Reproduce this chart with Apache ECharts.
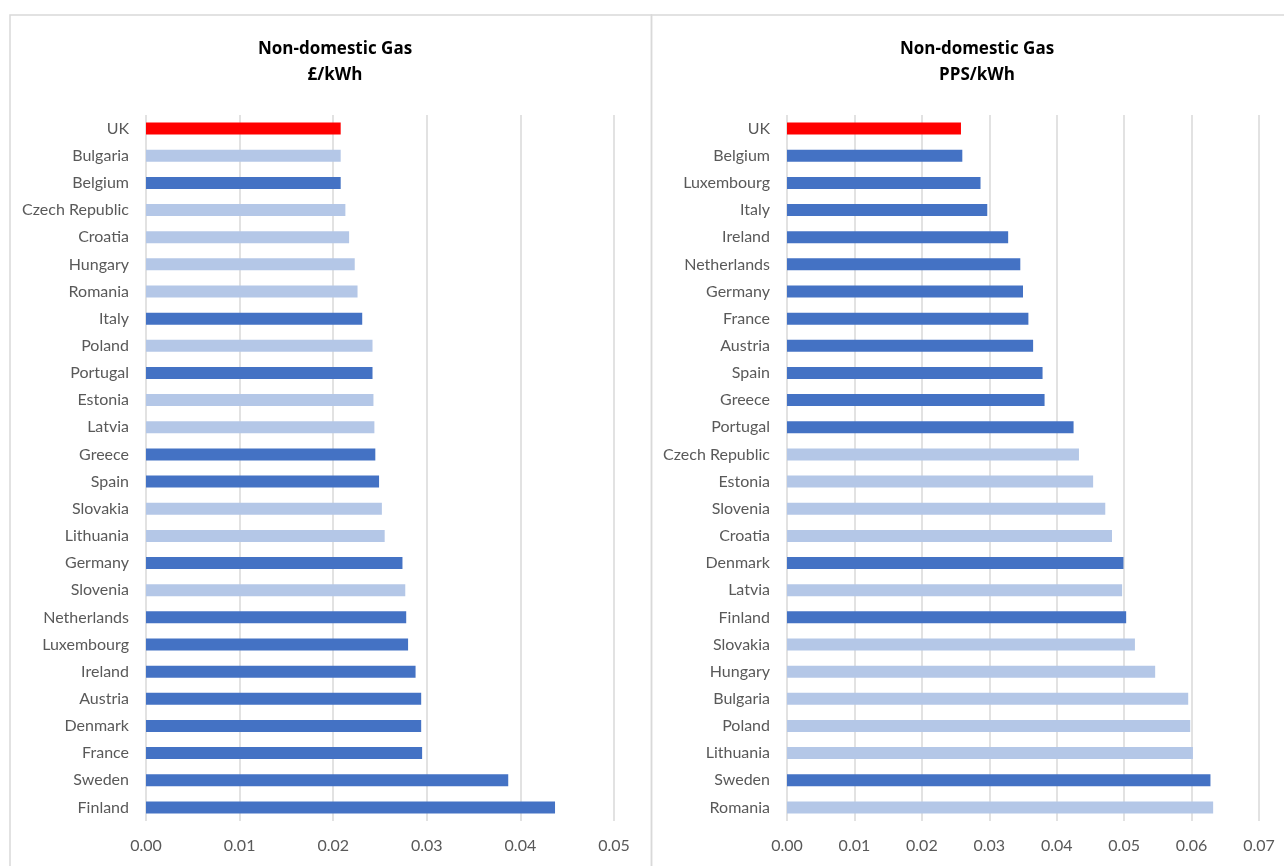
<!DOCTYPE html>
<html>
<head>
<meta charset="utf-8">
<script src="https://cdn.jsdelivr.net/npm/echarts@6/dist/echarts.min.js"></script>
<style>
html,body{margin:0;padding:0;background:#fff;}
#chart{width:1284px;height:866px;}
</style>
</head>
<body>
<div id="chart"></div>
<script>
// Left panel: £/kWh
const leftCategories = ['UK','Bulgaria','Belgium','Czech Republic','Croatia','Hungary','Romania','Italy','Poland','Portugal','Estonia','Latvia','Greece','Spain','Slovakia','Lithuania','Germany','Slovenia','Netherlands','Luxembourg','Ireland','Austria','Denmark','France','Sweden','Finland'];
const leftValues = [0.0208,0.0208,0.0208,0.0213,0.0217,0.0223,0.0226,0.0231,0.0242,0.0242,0.0243,0.0244,0.0245,0.0249,0.0252,0.0255,0.0274,0.0277,0.0278,0.0280,0.0288,0.0294,0.0294,0.0295,0.0387,0.0437];
const leftGroups = ['uk','new','old','new','new','new','new','old','new','old','new','new','old','old','new','new','old','new','old','old','old','old','old','old','old','old'];
const leftTicks = [0, 0.05, 0.01];

// Right panel: PPS/kWh
const rightCategories = ['UK','Belgium','Luxembourg','Italy','Ireland','Netherlands','Germany','France','Austria','Spain','Greece','Portugal','Czech Republic','Estonia','Slovenia','Croatia','Denmark','Latvia','Finland','Slovakia','Hungary','Bulgaria','Poland','Lithuania','Sweden','Romania'];
const rightValues = [0.0258,0.0260,0.0287,0.0297,0.0328,0.0346,0.0350,0.0358,0.0365,0.0379,0.0382,0.0425,0.0433,0.0454,0.0472,0.0482,0.0499,0.0497,0.0503,0.0516,0.0546,0.0595,0.0598,0.0602,0.0628,0.0632];
const rightGroups = ['uk','old','old','old','old','old','old','old','old','old','old','old','new','new','new','new','old','new','old','new','new','new','new','new','old','new'];
const rightTicks = [0, 0.07, 0.01];

const titleLine1 = 'Non-domestic Gas';
const leftUnit = '£/kWh';
const rightUnit = 'PPS/kWh';

const groupColors = { uk: '#FF0000', old: '#4472C4', new: '#B4C7E7' };
const FONT = 'Lato, "Open Sans", sans-serif';
const TITLE_FONT = '"Open Sans", Lato, sans-serif';
const LABEL = '#595959';
const GRID = '#D9D9D9';

function toData(values, groups) {
  return values.map((v, i) => ({ value: v, itemStyle: { color: groupColors[groups[i]] } }));
}

function xAxisFor(idx, ticks) {
  return {
    type: 'value', gridIndex: idx, min: ticks[0], max: ticks[1], interval: ticks[2],
    axisLine: { show: false }, axisTick: { show: false },
    splitLine: { show: true, lineStyle: { color: GRID, width: 1.5 } },
    axisLabel: { color: LABEL, fontSize: 16, fontFamily: FONT, margin: 17, formatter: v => v.toFixed(2) }
  };
}
function yAxisFor(idx, cats) {
  return {
    type: 'category', gridIndex: idx, data: cats, inverse: true,
    axisLine: { show: false }, axisTick: { show: false }, splitLine: { show: false },
    axisLabel: { color: LABEL, fontSize: 16, fontFamily: FONT, margin: 17 }
  };
}

const chart = echarts.init(document.getElementById('chart'), null, { renderer: 'canvas' });
chart.setOption({
  backgroundColor: '#fff',
  animation: false,
  graphic: [
    { type: 'rect', shape: { x: 10, y: 15, width: 641.5, height: 900 }, style: { fill: 'none', stroke: '#D9D9D9', lineWidth: 1.5 }, silent: true },
    { type: 'rect', shape: { x: 651.5, y: 15, width: 700, height: 900 }, style: { fill: 'none', stroke: '#D9D9D9', lineWidth: 1.5 }, silent: true }
  ],
  title: [
    { text: titleLine1 + '\n' + leftUnit, left: 330, top: 31, textAlign: 'center',
      textStyle: { fontFamily: TITLE_FONT, fontSize: 17, fontWeight: 'bold', color: '#000', lineHeight: 26 } },
    { text: titleLine1 + '\n' + rightUnit, left: 972, top: 31, textAlign: 'center',
      textStyle: { fontFamily: TITLE_FONT, fontSize: 17, fontWeight: 'bold', color: '#000', lineHeight: 26 } }
  ],
  grid: [
    { left: 146, top: 115, width: 468, height: 706 },
    { left: 787, top: 115, width: 472, height: 706 }
  ],
  xAxis: [xAxisFor(0, leftTicks), xAxisFor(1, rightTicks)],
  yAxis: [yAxisFor(0, leftCategories), yAxisFor(1, rightCategories)],
  series: [
    { type: 'bar', xAxisIndex: 0, yAxisIndex: 0, barWidth: 12, data: toData(leftValues, leftGroups) },
    { type: 'bar', xAxisIndex: 1, yAxisIndex: 1, barWidth: 12, data: toData(rightValues, rightGroups) }
  ]
});
</script>
</body>
</html>
